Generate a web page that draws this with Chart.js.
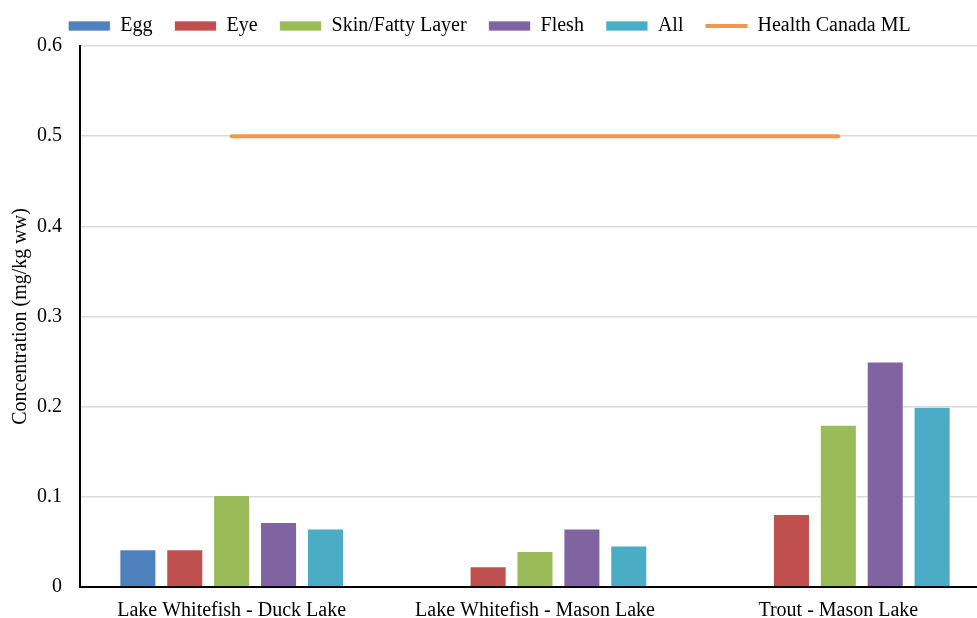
<!DOCTYPE html>
<html>
<head>
<meta charset="utf-8">
<script src="https://cdn.jsdelivr.net/npm/chart.js@4/dist/chart.umd.min.js"></script>
<style>
  html, body { margin: 0; padding: 0; background: #fff; }
  #frame { width: 977px; height: 618px; overflow: hidden; }
  /* plot runs a little past the right edge, as in the reference */
  #wrap { width: 990px; height: 618px; position: relative; }
</style>
</head>
<body>
<div id="frame"><div id="wrap"><canvas id="fishChart"></canvas></div></div>
<script>
const categories = ['Lake Whitefish - Duck Lake', 'Lake Whitefish - Mason Lake', 'Trout - Mason Lake'];
const egg = [0.042, null, null];
const eye = [0.042, 0.023, 0.081];
const skinFat = [0.102, 0.040, 0.180];
const flesh = [0.072, 0.065, 0.250];
const allTissue = [0.065, 0.046, 0.200];
const healthCanadaML = [0.5, 0.5, 0.5];
const yTicks = [0, 0.1, 0.2, 0.3, 0.4, 0.5, 0.6];

const serif = "'Liberation Serif', 'Times New Roman', serif";

function barSet(label, data, color) {
  return {
    type: 'bar',
    label: label,
    data: data,
    backgroundColor: color,
    borderColor: 'rgba(255,255,255,0.7)',
    borderWidth: 1,
    pointStyle: 'rect',
    categoryPercentage: 0.773,
    barPercentage: 0.79
  };
}

// nudge the legend back to the centre of the visible frame
const legendShift = {
  id: 'legendShift',
  afterLayout(chart) {
    if (chart.legend) {
      chart.legend.left -= 10;
      chart.legend.right -= 10;
    }
  }
};

new Chart(document.getElementById('fishChart'), {
  data: {
    labels: categories,
    datasets: [
      barSet('Egg', egg, '#4F81BD'),
      barSet('Eye', eye, '#C0504D'),
      barSet('Skin/Fatty Layer', skinFat, '#9BBB59'),
      barSet('Flesh', flesh, '#8064A2'),
      barSet('All', allTissue, '#4BACC6'),
      {
        type: 'line',
        label: 'Health Canada ML',
        data: healthCanadaML,
        borderColor: '#F79646',
        backgroundColor: '#F79646',
        borderWidth: 4,
        borderCapStyle: 'round',
        pointRadius: 0,
        pointHoverRadius: 0,
        pointStyle: 'line',
        fill: false
      }
    ]
  },
  plugins: [legendShift],
  options: {
    responsive: true,
    maintainAspectRatio: false,
    animation: false,
    layout: {
      padding: { left: 9, right: 0, top: -6, bottom: 0 }
    },
    plugins: {
      legend: {
        display: true,
        position: 'top',
        align: 'center',
        labels: {
          usePointStyle: true,
          pointStyleWidth: 42,
          boxHeight: 10,
          padding: 22,
          color: '#000',
          font: { family: serif, size: 20 }
        }
      },
      tooltip: { enabled: false }
    },
    scales: {
      x: {
        afterFit: (scale) => { scale.height = 31; },
        grid: { display: false },
        border: { display: true, color: '#000', width: 2 },
        ticks: {
          color: '#000',
          padding: 4,
          font: { family: serif, size: 20 }
        }
      },
      y: {
        min: 0,
        max: 0.6,
        afterBuildTicks: (scale) => {
          scale.ticks = yTicks.map(v => ({ value: v }));
        },
        afterFit: (scale) => { scale.width = 71; },
        grid: {
          color: '#D9D9D9',
          lineWidth: 1.5,
          drawTicks: false
        },
        border: { display: true, color: '#000', width: 2 },
        ticks: {
          color: '#000',
          padding: 18,
          font: { family: serif, size: 20 }
        },
        title: {
          display: true,
          text: 'Concentration (mg/kg ww)',
          color: '#000',
          padding: { top: 0, bottom: 4 },
          font: { family: serif, size: 20 }
        }
      }
    }
  }
});
</script>
</body>
</html>
